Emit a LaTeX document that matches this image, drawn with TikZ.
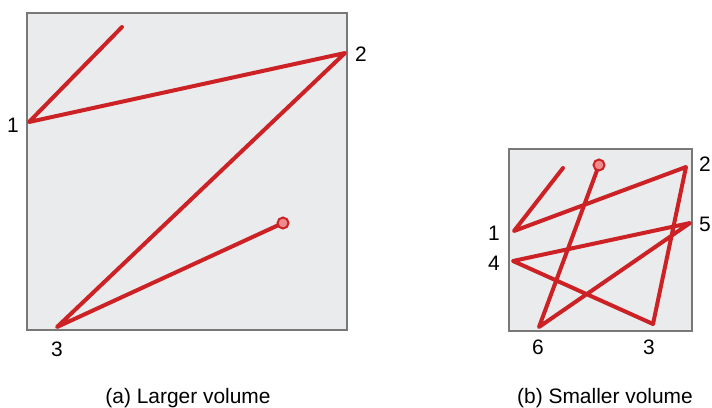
\documentclass[tikz,border=0pt]{standalone}
\usepackage{fontspec}
\setmainfont{Liberation Sans}

\definecolor{trackred}{RGB}{204,34,38}
\definecolor{boxfill}{RGB}{233,235,237}
\definecolor{boxline}{RGB}{120,120,120}
\definecolor{dotfill}{RGB}{236,140,140}

\tikzset{
  vessel/.style={draw=boxline, line width=2.5bp, fill=boxfill},
  track/.style={draw=trackred, line width=4bp, line join=round, line cap=round},
  ball/.style={circle, draw=trackred, fill=dotfill, line width=2bp, minimum size=11bp, inner sep=0pt},
  num/.style={font=\fontsize{21}{23}\selectfont, inner sep=0pt},
  caption/.style={font=\fontsize{21}{23}\selectfont, inner sep=0pt, anchor=base},
}

\begin{document}
\begin{tikzpicture}[x=1bp,y=-1bp]
  \useasboundingbox (0,0) rectangle (712,407);
  %
  % (a) larger volume
  \draw[vessel] (27,13) rectangle (347,330);
  \coordinate (a0) at (122,27);
  \coordinate (a1) at (29,122);
  \coordinate (a2) at (345,53);
  \coordinate (a3) at (57,327);
  \node[ball] (ad) at (283,223) {};
  %
  \draw[track] (a0) -- (a1) -- (a2) -- (a3) -- (ad);
  %
  \node[num] (la1) at (13,125) {1};
  \node[num] (la2) at (361,54) {2};
  \node[num] (la3) at (57,349) {3};
  \node[caption] (capa) at (188,403) {(a) Larger volume};
  %
  % (b) smaller volume
  \draw[vessel] (509,149) rectangle (692,331);
  \coordinate (b0) at (563,168);
  \coordinate (b1) at (514,231);
  \coordinate (b2) at (686,167);
  \coordinate (b3) at (653,324);
  \coordinate (b4) at (513,261);
  \coordinate (b5) at (690,223);
  \coordinate (b6) at (539,327);
  \node[ball] (bd) at (599,165) {};
  %
  \draw[track] (b0) -- (b1) -- (b2) -- (b3) -- (b4) -- (b5) -- (b6) -- (bd);
  %
  \node[num] (lb1) at (494,233) {1};
  \node[num] (lb2) at (705,164) {2};
  \node[num] (lb3) at (649,347) {3};
  \node[num] (lb4) at (494,263) {4};
  \node[num] (lb5) at (705,224) {5};
  \node[num] (lb6) at (538,347) {6};
  \node[caption] (capb) at (605,403) {(b) Smaller volume};
\end{tikzpicture}
\end{document}
